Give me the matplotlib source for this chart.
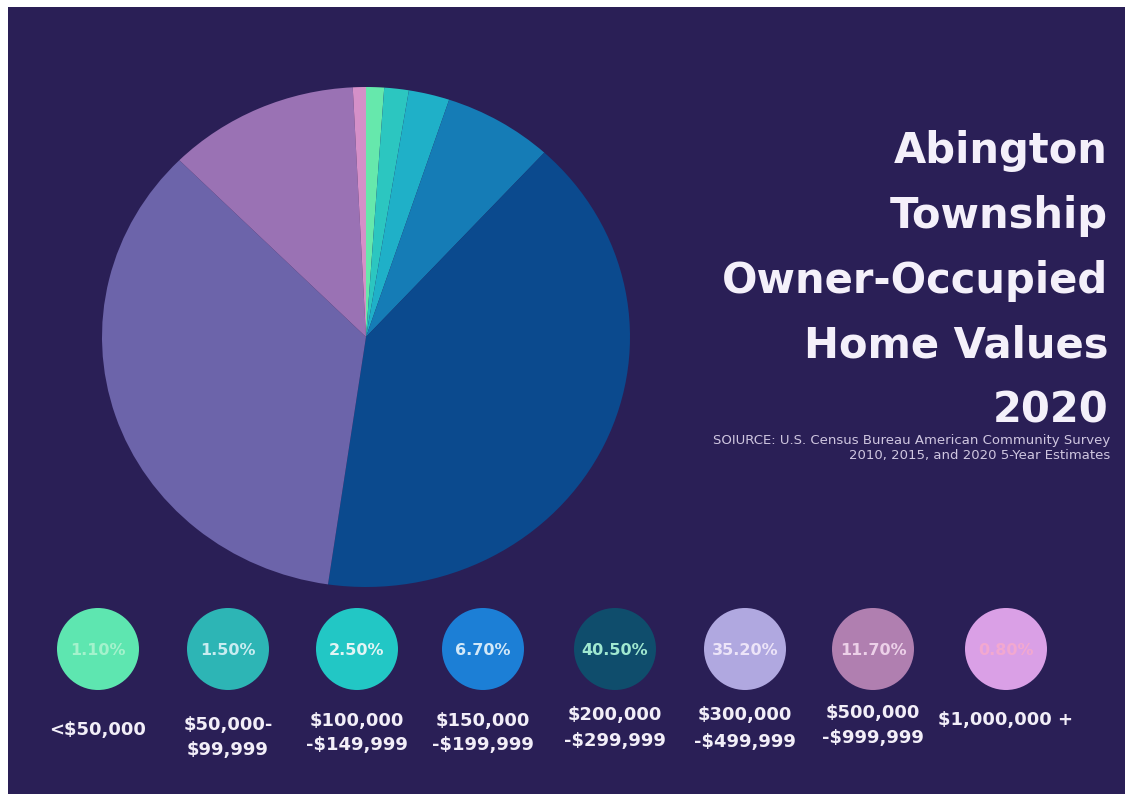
import matplotlib
matplotlib.use("Agg")
import matplotlib.pyplot as plt
from matplotlib.patches import Circle, Rectangle

categories = [["<$50,000"], ["$50,000-", "$99,999"], ["$100,000", "-$149,999"], ["$150,000", "-$199,999"],
              ["$200,000", "-$299,999"], ["$300,000", "-$499,999"], ["$500,000", "-$999,999"], ["$1,000,000 +"]]
shares = [1.1, 1.5, 2.5, 6.7, 40.5, 35.2, 11.7, 0.8]
pct_labels = ["1.10%", "1.50%", "2.50%", "6.70%", "40.50%", "35.20%", "11.70%", "0.80%"]
pie_colors = ["#66e8ac", "#2cc6c0", "#1fb0c8", "#157cb6", "#0b4a8e", "#6c64aa", "#9a72b4", "#d590c8"]
dot_colors = ["#5ee6b0", "#2db5b5", "#22c7c5", "#1c7fd6", "#0f4d6c", "#b0a8e0", "#b07fb0", "#daa0e6"]
pct_colors = ["#a4f2cc", "#c8ecf0", "#e2f4f4", "#d2e8f8", "#a0e8d0", "#ece4f8", "#ecd0e8", "#f2a8d0"]
title_lines = ["Abington", "Township", "Owner-Occupied", "Home Values", "2020"]
source_lines = ["SOIURCE: U.S. Census Bureau American Community Survey",
                "2010, 2015, and 2020 5-Year Estimates"]

W, H = 1130, 803
fig = plt.figure(figsize=(W / 100, H / 100), dpi=100, facecolor="white")
ax = fig.add_axes([0, 0, 1, 1])
ax.set_xlim(0, W)
ax.set_ylim(0, H)
ax.axis("off")

ax.add_patch(Rectangle((8, 8), 1117, 787, facecolor="#2a1f56", edgecolor="none", zorder=0))

# pie (slightly elliptical as in the reference)
pl, pt, pw, ph = 102, 88, 528, 500
pax = fig.add_axes([pl / W, (H - pt - ph) / H, pw / W, ph / H])
pax.pie(shares, colors=pie_colors, startangle=90, counterclock=False, radius=1,
        wedgeprops=dict(linewidth=0))
pax.set_aspect("auto")
pax.set_xlim(-1, 1)
pax.set_ylim(-1, 1)
pax.axis("off")

title_base = [163, 228, 293, 358, 423]
for line, yb in zip(title_lines, title_base):
    ax.text(1108, H - yb, line, ha="right", va="baseline", fontsize=30, fontweight="bold",
            color="#f4f0fa", family="DejaVu Sans")
for line, yc in zip(source_lines, [441, 456]):
    ax.text(1110, H - yc, line, ha="right", va="center", fontsize=9.5, color="#cfc6e0",
            family="DejaVu Sans")

xs = [98, 228, 357, 483, 615, 745, 873, 1006]
label_base = [[735], [730, 755], [726, 750], [726, 750], [720, 746], [720, 747], [718, 743], [725]]
for x, c, p, pc, lab, yb in zip(xs, dot_colors, pct_labels, pct_colors, categories, label_base):
    ax.add_patch(Circle((x, H - 650), 41, facecolor=c, edgecolor="none", zorder=3))
    ax.text(x, H - 651, p, ha="center", va="center", fontsize=11.5, fontweight="bold",
            color=pc, family="DejaVu Sans", zorder=4)
    for line, y in zip(lab, yb):
        ax.text(x, H - y, line, ha="center", va="baseline", fontsize=13, fontweight="bold",
                color="#f2eef8", family="DejaVu Sans", zorder=4)

fig.savefig("out.png", dpi=100, facecolor="white")
